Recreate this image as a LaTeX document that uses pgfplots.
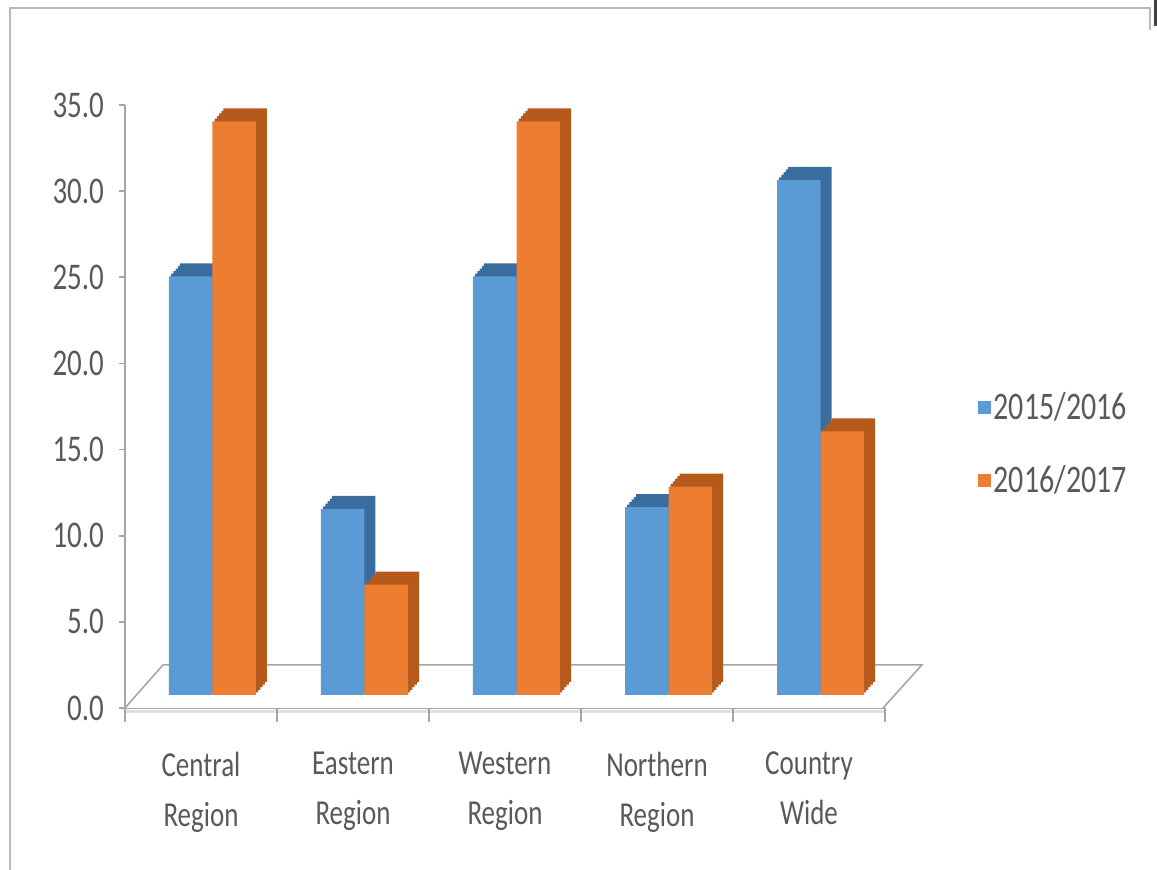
\documentclass[border=0pt]{standalone}
\usepackage{fontspec}
\setmainfont{Carlito}
\usepackage{graphicx}
\usepackage{pgfplots}
\usepackage{pgfplotstable}
\pgfplotsset{compat=1.18}
\definecolor{cblue}{HTML}{5B9BD5}
\definecolor{cblued}{HTML}{3A6D9E}
\definecolor{corange}{HTML}{ED7D31}
\definecolor{coranged}{HTML}{B65A1C}
\definecolor{txt}{HTML}{595959}
\definecolor{ax}{HTML}{A6A6A6}
\newcommand{\st}[1]{\scalebox{1}[1.3]{#1}}

\pgfplotstableread{
x a b
0 24.3 33.3
1 10.8 6.4
2 24.3 33.3
3 10.9 12.1
4 29.9 15.3
}\data

\begin{document}
\begin{tikzpicture}
\path[use as bounding box] (-62.5pt,-81pt) rectangle (516pt,354pt);
\draw[gray!55, line width=1pt] (-57.5pt,-81pt) -- (-57.5pt,350pt) -- (512.5pt,350pt) -- (512.5pt,339pt);
\draw[black!75, line width=1.5pt] (515pt,354pt) -- (515pt,341pt);
\begin{axis}[
  at={(0pt,0pt)}, anchor=south west,
  scale only axis, width=380pt, height=301.5pt,
  xmin=-0.5, xmax=4.5, ymin=0, ymax=35,
  axis lines=left, axis line style={-, draw=ax, line width=0.8pt},
  clip=false,
  ytick={0,5,...,35},
  /pgf/number format/fixed, /pgf/number format/fixed zerofill, /pgf/number format/precision=1,
  /pgf/number format/assume math mode=true,
  yticklabel={\st{\pgfmathprintnumber{\tick}}},
  y tick label style={xshift=-4pt, font=\fontsize{14.5}{16}\selectfont},
  xtick={0,...,4},
  xticklabels={{\st{Central}\\\st{Region}},{\st{Eastern}\\\st{Region}},{\st{Western}\\\st{Region}},{\st{Northern}\\\st{Region}},{\st{Country}\\\st{Wide}}},
  x tick label style={align=center, font=\fontsize{13.5}{25}\selectfont, yshift=-15.5pt},
  xtick style={draw=none},
  ytick style={draw=ax, line width=0.8pt},
  tick align=outside, major tick length=3pt,
  tick label style={text=txt},
  legend style={at={(1.1224,0.4386)}, anchor=west, draw=none, fill=none, inner sep=0pt,
    row sep=19pt, font=\fontsize{15}{18}\selectfont, text=txt, nodes={inner sep=1.25pt}},
  legend cell align=left,
]
% floor
\draw[ax, fill=white, line width=0.8pt] (axis cs:-0.5,0) -- (axis cs:-0.25,2.5) -- (axis cs:4.743,2.5) -- (axis cs:4.487,0);
\draw[gray!25, line width=1.5pt] ([yshift=-1.6pt]axis cs:-0.5,0) -- ([yshift=-1.6pt]axis cs:4.5,0);
\pgfplotsinvokeforeach{-0.5,0.5,1.5,2.5,3.5,4.5}{\draw[ax, line width=0.8pt] (axis cs:#1,0) -- ++(0pt,-7pt);}

\pgfplotsinvokeforeach{5,4,3,2,1}{
\addplot[forget plot, ybar, draw=none, fill=cblued, bar width=21.75pt, bar shift=-10.875pt,
  xshift={5.75pt+#1*1.1pt}, yshift={6.5pt+#1*1.3pt}] table[x=x,y=a]{\data};
}
\addplot[forget plot, ybar, draw=none, fill=cblue, bar width=21.75pt, bar shift=-10.875pt,
  xshift=5.75pt, yshift=6.5pt] table[x=x,y=a]{\data};
\pgfplotsinvokeforeach{5,4,3,2,1}{
\addplot[forget plot, ybar, draw=none, fill=coranged, bar width=21.75pt, bar shift=10.875pt,
  xshift={5.75pt+#1*1.1pt}, yshift={6.5pt+#1*1.3pt}] table[x=x,y=b]{\data};
}
\addplot[forget plot, ybar, draw=none, fill=corange, bar width=21.75pt, bar shift=10.875pt,
  xshift=5.75pt, yshift=6.5pt] table[x=x,y=b]{\data};

\addlegendimage{legend image code/.code={\fill[cblue] (0pt,-3pt) rectangle (6pt,3pt);}}
\addlegendentry{\st{2015/2016}}
\addlegendimage{legend image code/.code={\fill[corange] (0pt,-3pt) rectangle (6pt,3pt);}}
\addlegendentry{\st{2016/2017}}
\end{axis}
\end{tikzpicture}
\end{document}
